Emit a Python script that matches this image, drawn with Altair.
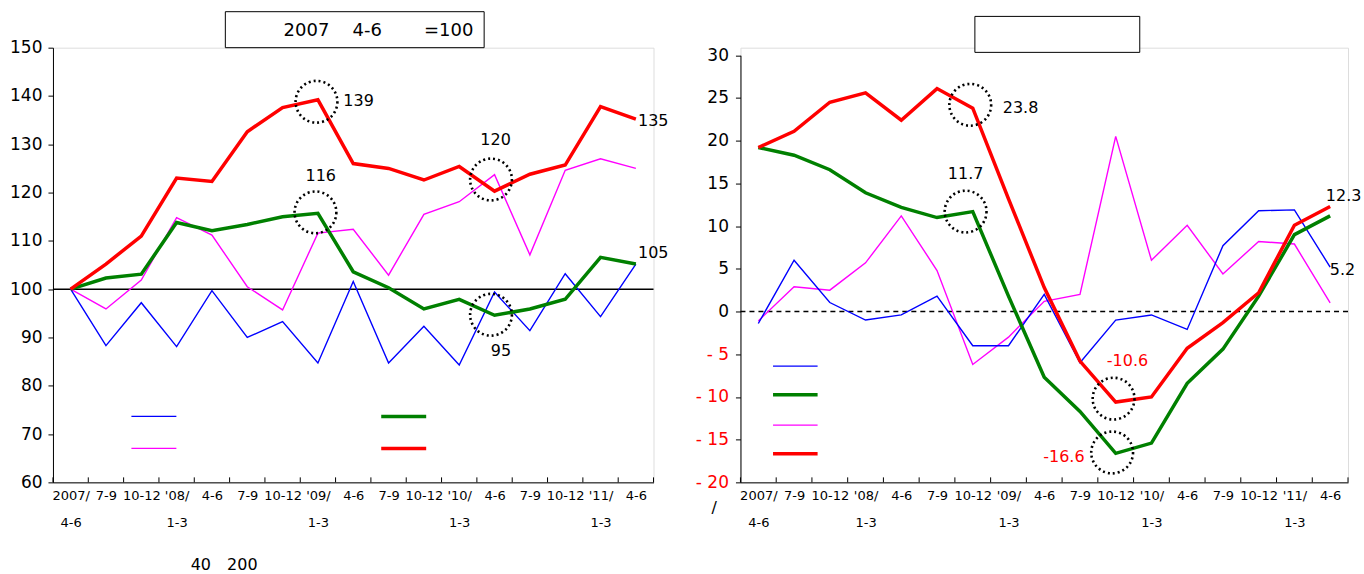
import json
import altair as alt
import pandas as pd

FONT = "DejaVu Sans"

# ---------------- data ----------------
quarters = list(range(17))
quarter_labels = ["2007/|4-6", "7-9", "10-12", "'08/|1-3", "4-6", "7-9", "10-12",
                  "'09/|1-3", "4-6", "7-9", "10-12", "'10/|1-3", "4-6", "7-9",
                  "10-12", "'11/|1-3", "4-6"]
tick_bounds = [-0.5, 0.5, 1.5, 2.5, 3.5, 4.5, 5.5, 6.5, 7.5, 8.5, 9.5, 10.5,
               11.5, 12.5, 13.5, 14.5, 15.5, 16.5]

# left panel: index (2007 4-6 = 100)
blue_idx = [100, 88.3, 97.2, 88.1, 99.7, 90.0, 93.3, 84.7, 101.6, 84.7, 92.3, 84.3, 99.4, 91.4, 103.2, 94.3, 105.2]
magenta_idx = [100, 95.9, 101.9, 114.8, 111.2, 100.5, 95.7, 111.6, 112.4, 102.9, 115.5, 118.1, 123.7, 107.1, 124.6, 127.0, 125.0]
green_idx = [100, 102.3, 103.1, 113.8, 112.1, 113.4, 115.0, 115.7, 103.6, 100.3, 95.9, 97.9, 94.6, 95.9, 97.9, 106.6, 105.2]
red_idx = [100, 105.2, 111.0, 123.0, 122.3, 132.6, 137.6, 139.2, 126.0, 125.0, 122.6, 125.4, 120.3, 123.8, 125.7, 137.8, 135.2]

# right panel: year-on-year change (%)
blue_yoy = [-1.4, 6.0, 1.05, -1.0, -0.4, 1.8, -4.0, -4.0, 2.0, -6.0, -1.0, -0.4, -2.1, 7.7, 11.8, 11.9, 5.2]
magenta_yoy = [-1.1, 2.9, 2.5, 5.7, 11.2, 4.8, -6.2, -3.0, 1.2, 2.0, 20.5, 6.0, 10.1, 4.4, 8.2, 7.9, 1.0]
green_yoy = [19.2, 18.3, 16.6, 13.9, 12.2, 11.0, 11.7, 1.8, -7.7, -11.7, -16.6, -15.4, -8.4, -4.4, 1.8, 9.0, 11.2]
red_yoy = [19.2, 21.1, 24.5, 25.6, 22.4, 26.1, 23.8, 13.2, 2.8, -5.8, -10.6, -10.0, -4.3, -1.3, 2.2, 10.1, 12.3]

# annotations (data units)
left_circle_q = [6.96, 6.93, 11.9, 11.9]
left_circle_v = [138.8, 115.9, 122.7, 94.7]
left_lbl_left_text = ["139", "135", "105"]
left_lbl_left_q = [7.72, 16.06, 16.06]
left_lbl_left_v = [139.0, 134.9, 107.4]
left_lbl_center_text = ["116", "120", "95"]
left_lbl_center_q = [7.08, 12.03, 12.18]
left_lbl_center_v = [123.5, 130.9, 87.3]

right_circle_q = [5.93, 5.8, 9.94, 9.9]
right_circle_v = [24.2, 11.7, -10.2, -16.5]
right_lbl_left_text = ["23.8", "12.3", "5.2"]
right_lbl_left_q = [6.84, 15.88, 15.99]
right_lbl_left_v = [23.8, 13.5, 4.9]
right_lbl_center_text = ["11.7", "-10.6"]
right_lbl_center_q = [5.8, 10.33]
right_lbl_center_v = [16.1, -5.75]
right_lbl_center_color = ["black", "red"]
right_lbl_right_text = ["-16.6"]
right_lbl_right_q = [9.13]
right_lbl_right_v = [-17.0]

series_keys = ["s_blue", "s_magenta", "s_green", "s_red"]

W_L, W_R, H = 601, 608, 435

one = pd.DataFrame({"a": [0]})


def long_df(vals_list):
    rows = []
    for key, vals in zip(series_keys, vals_list):
        for q, v in zip(quarters, vals):
            rows.append({"q": q, "v": v, "s": key})
    return pd.DataFrame(rows)


label_expr = "split(" + json.dumps(quarter_labels) + "[datum.value], '|')"

x_axis = alt.Axis(values=quarters, labelExpr=label_expr, ticks=False, grid=False,
                  title=None, labelFontSize=13, labelLineHeight=27, labelPadding=7,
                  labelFont=FONT, labelColor="black", domainColor="black",
                  labelAngle=0, labelBaseline="top", labelOverlap=False,
                  labelFlush=False, labelAlign="center")
X = alt.X("q:Q", scale=alt.Scale(domain=[-0.5, 16.5], nice=False, zero=False), axis=x_axis)


def panel(df, Y, circle_q, circle_v):
    layers = []
    # ticks on x axis (pointing into the plot)
    layers.append(alt.Chart(pd.DataFrame({"q": tick_bounds})).mark_rule(color="black", strokeWidth=1)
                  .encode(x=X, y=alt.value(H), y2=alt.value(H - 5)))
    for key, col, w in zip(["s_magenta", "s_blue", "s_green", "s_red"],
                           ["#FF00FF", "#0000FF", "#008000", "#FF0000"],
                           [1.4, 1.4, 3.5, 3.5]):
        layers.append(alt.Chart(df[df.s == key]).mark_line(color=col, strokeWidth=w)
                      .encode(x=X, y=Y))
    layers.append(alt.Chart(pd.DataFrame({"q": circle_q, "v": circle_v}))
                  .mark_point(shape="circle", size=1750, filled=False, color="black",
                              strokeWidth=2.6, strokeDash=[2, 3], opacity=1)
                  .encode(x=X, y=Y))
    return layers


# ---------------- left panel ----------------
Y_L = alt.Y("v:Q", scale=alt.Scale(domain=[60, 150], nice=False, zero=False),
            axis=alt.Axis(values=list(range(60, 151, 10)), tickSize=5, grid=False,
                          title=None, labelFontSize=17, labelPadding=6, labelFont=FONT,
                          labelColor="black", domainColor="black", tickColor="black"))
df_L = long_df([blue_idx, magenta_idx, green_idx, red_idx])

left_layers = []
left_layers.append(alt.Chart(pd.DataFrame({"v": [100]})).mark_rule(color="black", strokeWidth=1.5)
                   .encode(y=Y_L))
left_layers += panel(df_L, Y_L, left_circle_q, left_circle_v)
left_layers.append(alt.Chart(pd.DataFrame({"q": left_lbl_left_q, "v": left_lbl_left_v, "t": left_lbl_left_text}))
                   .mark_text(align="left", baseline="middle", fontSize=16, font=FONT, color="black")
                   .encode(x=X, y=Y_L, text="t:N"))
left_layers.append(alt.Chart(pd.DataFrame({"q": left_lbl_center_q, "v": left_lbl_center_v, "t": left_lbl_center_text}))
                   .mark_text(align="center", baseline="middle", fontSize=16, font=FONT, color="black")
                   .encode(x=X, y=Y_L, text="t:N"))
# title box
left_layers.append(alt.Chart(one).mark_rect(fill="white", stroke="black", strokeWidth=1)
                   .encode(x=alt.value(172.5), x2=alt.value(431.5), y=alt.value(-36), y2=alt.value(0)))
for txt, xp in zip(["2007", "4-6", "=100"], [253.7, 314.5, 396]):
    left_layers.append(alt.Chart(one).mark_text(fontSize=18, font=FONT, color="black", baseline="middle")
                       .encode(x=alt.value(xp), y=alt.value(-17), text=alt.value(txt)))
# legend lines
left_layers.append(alt.Chart(one).mark_rule(color="#0000FF", strokeWidth=1.4)
                   .encode(x=alt.value(78.5), x2=alt.value(123.5), y=alt.value(369)))
left_layers.append(alt.Chart(one).mark_rule(color="#FF00FF", strokeWidth=1.4)
                   .encode(x=alt.value(78.5), x2=alt.value(123.5), y=alt.value(401)))
left_layers.append(alt.Chart(one).mark_rule(color="#008000", strokeWidth=3.5)
                   .encode(x=alt.value(328.5), x2=alt.value(373.5), y=alt.value(369)))
left_layers.append(alt.Chart(one).mark_rule(color="#FF0000", strokeWidth=3.5)
                   .encode(x=alt.value(328.5), x2=alt.value(373.5), y=alt.value(401)))
# footnote
left_layers.append(alt.Chart(one).mark_text(fontSize=16, font=FONT, color="black", baseline="middle")
                   .encode(x=alt.value(148), y=alt.value(518), text=alt.value("40")))
left_layers.append(alt.Chart(one).mark_text(fontSize=16, font=FONT, color="black", baseline="middle")
                   .encode(x=alt.value(189.5), y=alt.value(518), text=alt.value("200")))

left = alt.layer(*left_layers).properties(width=W_L, height=H)

# ---------------- right panel ----------------
Y_R = alt.Y("v:Q", scale=alt.Scale(domain=[-20, 30], nice=False, zero=False, range=[H, 7.6]),
            axis=alt.Axis(values=list(range(-20, 31, 5)), tickSize=5, grid=False,
                          title=None, labelFontSize=17, labelPadding=7, labelFont=FONT,
                          labelExpr="datum.value < 0 ? '- ' + abs(datum.value) : datum.label",
                          labelColor={"condition": {"test": "datum.value < 0", "value": "red"}, "value": "black"},
                          domainColor="black", tickColor="black"))
df_R = long_df([blue_yoy, magenta_yoy, green_yoy, red_yoy])

right_layers = []
right_layers.append(alt.Chart(pd.DataFrame({"v": [0]})).mark_rule(color="black", strokeWidth=1.5, strokeDash=[5, 4])
                    .encode(y=Y_R))
right_layers += panel(df_R, Y_R, right_circle_q, right_circle_v)
right_layers.append(alt.Chart(pd.DataFrame({"q": right_lbl_left_q, "v": right_lbl_left_v, "t": right_lbl_left_text}))
                    .mark_text(align="left", baseline="middle", fontSize=16, font=FONT, color="black")
                    .encode(x=X, y=Y_R, text="t:N"))
right_layers.append(alt.Chart(pd.DataFrame({"q": right_lbl_center_q, "v": right_lbl_center_v,
                                            "t": right_lbl_center_text, "c": right_lbl_center_color}))
                    .mark_text(align="center", baseline="middle", fontSize=16, font=FONT)
                    .encode(x=X, y=Y_R, text="t:N", color=alt.Color("c:N", scale=None)))
right_layers.append(alt.Chart(pd.DataFrame({"q": right_lbl_right_q, "v": right_lbl_right_v, "t": right_lbl_right_text}))
                    .mark_text(align="right", baseline="middle", fontSize=16, font=FONT, color="red")
                    .encode(x=X, y=Y_R, text="t:N"))
right_layers.append(alt.Chart(one).mark_rect(fill="white", stroke="black", strokeWidth=1)
                    .encode(x=alt.value(234.6), x2=alt.value(399.6), y=alt.value(-31.3), y2=alt.value(4.7)))
right_layers.append(alt.Chart(one).mark_rule(color="#0000FF", strokeWidth=1.4)
                    .encode(x=alt.value(32.6), x2=alt.value(77.2), y=alt.value(318.7)))
right_layers.append(alt.Chart(one).mark_rule(color="#008000", strokeWidth=3.5)
                    .encode(x=alt.value(32.6), x2=alt.value(77.2), y=alt.value(347.3)))
right_layers.append(alt.Chart(one).mark_rule(color="#FF00FF", strokeWidth=1.4)
                    .encode(x=alt.value(32.6), x2=alt.value(77.2), y=alt.value(377.7)))
right_layers.append(alt.Chart(one).mark_rule(color="#FF0000", strokeWidth=3.5)
                    .encode(x=alt.value(32.6), x2=alt.value(77.2), y=alt.value(406.3)))
right_layers.append(alt.Chart(one).mark_text(fontSize=16, font=FONT, color="black", baseline="middle")
                    .encode(x=alt.value(-26.4), y=alt.value(461), text=alt.value("/")))

right = alt.layer(*right_layers).properties(width=W_R, height=H)

chart = (alt.hconcat(left, right, spacing=87, bounds="flush")
         .properties(padding={"left": 9, "top": 10.5, "right": 2, "bottom": 2}, background="white")
         .configure_view(stroke="transparent")
         .configure(font=FONT))

chart.save("out.html", embed_options={"renderer": "svg", "actions": False})
